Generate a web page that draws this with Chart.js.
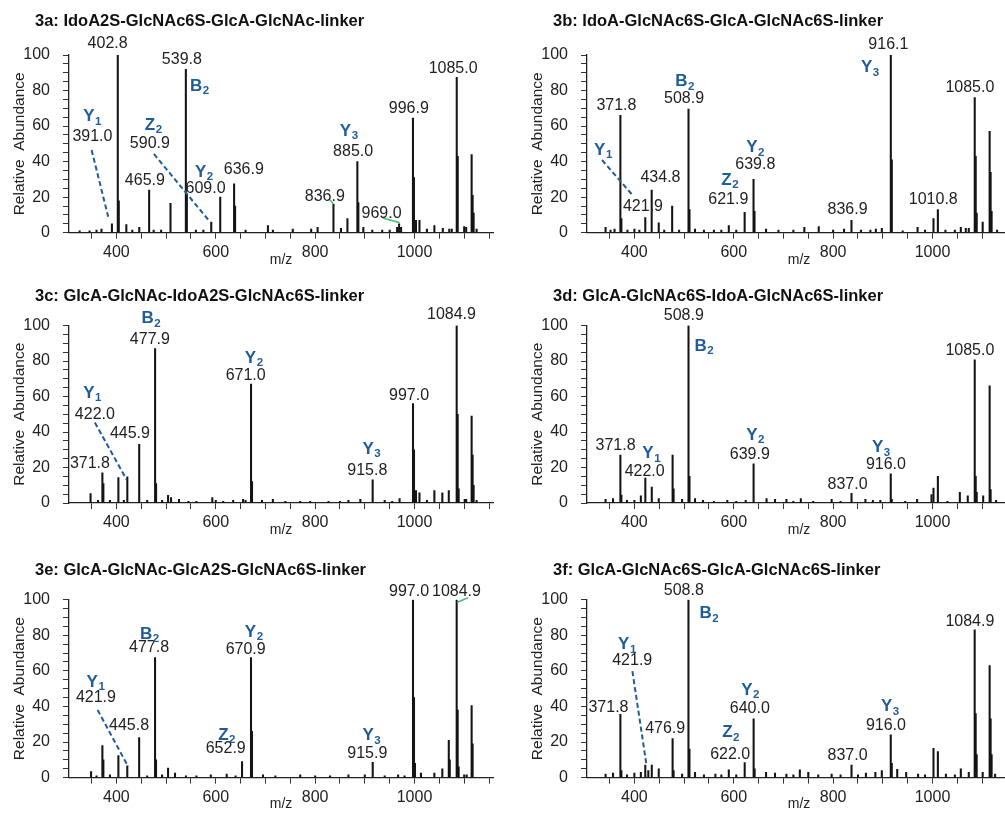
<!DOCTYPE html>
<html><head><meta charset="utf-8">
<script src="https://cdn.jsdelivr.net/npm/chart.js@4.4.0/dist/chart.umd.min.js"></script>
<style>
html,body{margin:0;padding:0;background:#fff}
body{width:1005px;height:813px;overflow:hidden;position:relative}
.p{position:absolute;width:500px;height:270px}
</style>
</head><body>
<div class="p" style="left:0;top:0"><canvas id="c3a"></canvas></div>
<div class="p" style="left:518px;top:0"><canvas id="c3b"></canvas></div>
<div class="p" style="left:0;top:270px"><canvas id="c3c"></canvas></div>
<div class="p" style="left:518px;top:270px"><canvas id="c3d"></canvas></div>
<div class="p" style="left:0;top:543px"><canvas id="c3e"></canvas></div>
<div class="p" style="left:518px;top:543px"><canvas id="c3f"></canvas></div>
<script>
// ---------- titles ----------
const title3a = '3a: IdoA2S-GlcNAc6S-GlcA-GlcNAc-linker';
const title3b = '3b: IdoA-GlcNAc6S-GlcA-GlcNAc6S-linker';
const title3c = '3c: GlcA-GlcNAc-IdoA2S-GlcNAc6S-linker';
const title3d = '3d: GlcA-GlcNAc6S-IdoA-GlcNAc6S-linker';
const title3e = '3e: GlcA-GlcNAc-GlcA2S-GlcNAc6S-linker';
const title3f = '3f: GlcA-GlcNAc6S-GlcA-GlcNAc6S-linker';

// ---------- axis ----------
const xTickLabels = [400, 600, 800, 1000];
const yTickLabels = [0, 20, 40, 60, 80, 100];
const xAxisTitle = 'm/z';
const yAxisTitle = 'Relative  Abundance';

// ---------- spectra: [m/z, relative abundance] ----------
const peaks3a = [[326,1],[346,1],[360,1.5],[370,2],[391.0,5],[402.8,100],[404.8,18],[420,4.5],[432,1.5],[446,3],[465.9,24],[475,1.5],[490,1.5],[508.9,16.5],[539.8,92],[541.8,22],[560,1.5],[575,1.5],[590.9,6],[609.0,20],[636.9,27.5],[638.9,15],[660,1.5],[705,4],[715,1.5],[755,2],[792,2],[805,3],[836.9,16],[852,2.5],[865,8],[885.0,40],[887,17],[897,3],[915,1.5],[935,1.5],[950,1.5],[965,3],[969.0,5],[973,3],[996.9,64.5],[998.9,31],[1003,7],[1010,7],[1025,2],[1040,4],[1057,2.5],[1070,2],[1075,2],[1085.0,87.5],[1087,43],[1100,3.5],[1104,3],[1115,44],[1117,21],[1119,11],[1125,2]];
const peaks3b = [[342,3],[352,1.5],[360,2],[371.8,66],[373.8,8],[386,1.5],[400,2],[410,1.5],[421.9,8.5],[434.8,24],[449,5.5],[460,1.5],[476,15],[490,1.5],[508.9,69.5],[510.9,13],[522,2],[540,1.5],[560,1.5],[575,1.5],[590,4],[605,1.5],[621.9,11.5],[639.8,30],[641.8,12],[665,2],[690,1.5],[720,1.5],[742,3],[771,3.5],[800,1.5],[822,2],[836.9,7],[856,1.5],[875,1.5],[886,2],[898,2.5],[916.1,100],[918.1,41],[940,1],[970,3],[985,1.5],[1002,8],[1010.8,13],[1026,1.5],[1045,1.5],[1057,3],[1067,2.5],[1073,2.5],[1085.0,76],[1087,43],[1089,11],[1101,6],[1115,57],[1117,34],[1119,12],[1130,1.5]];
const peaks3c = [[348,5.3],[363,1.5],[371.8,17],[373.8,11],[387,1.5],[404,14.3],[415,1.5],[422.0,14.7],[445.9,33],[462,1.5],[477.9,87],[479.9,11],[492,1.5],[504,4.3],[510,3],[526,2],[545,1],[561,1],[593,3],[600,1.5],[615,1],[635,1.5],[655,2],[660,1.5],[671.0,67],[673,12],[693,1.5],[715,2],[740,1],[770,1],[790,1],[827,1],[850,1],[867,1.5],[891,2],[915.8,13],[940,1.5],[955,1],[970,2.5],[997.0,56],[999,30],[1003,7],[1010,5.7],[1025,1.5],[1040,7],[1056,5.7],[1069,7],[1084.9,100],[1086.9,50],[1088.9,8],[1101,2],[1104,2],[1115,49],[1117,27],[1119,10],[1125,1.5]];
const peaks3d = [[342,2],[357,2.5],[371.8,27],[373.8,4.5],[385,1.5],[400,1.5],[413,4],[422.0,14],[435,9],[449,2.5],[476.9,27],[478.9,8],[496,2],[508.9,100],[510.9,15],[522,2.5],[538,1.5],[560,1],[587,1.5],[605,1],[624,1.5],[639.9,22],[666,2.5],[683,2],[706,2],[720,1],[735,2.5],[760,1],[797,2],[815,1],[837.0,5.5],[865,2],[880,1.5],[895,1.5],[916.0,16.5],[918,2],[945,1],[969,2],[998,4.7],[1002,8.4],[1010.8,15],[1030,1],[1055,6],[1071,4],[1085.0,80.7],[1087,15],[1089,6],[1102,4],[1115,66],[1117,7.5],[1128,1.5]];
const peaks3e = [[349,3.4],[360,1],[371.8,18],[373.8,10],[387,1.5],[404,12.4],[421.9,6.6],[445.8,22.5],[462,1],[477.8,67.5],[479.8,10],[492,1.5],[504,5.3],[518,2.5],[540,1],[561,1],[590,1.5],[622,2],[640,1],[652.9,9],[670.9,67.5],[672.9,26],[695,1.5],[720,1],[770,1.5],[800,1],[830,1],[867,1.5],[900,1.5],[915.9,8.6],[940,1],[967,1.5],[980,1],[997.0,100],[999,45],[1001,8],[1013,2.5],[1040,2.5],[1056,5],[1069,21],[1071,10],[1084.9,100],[1086.9,38],[1088.9,6],[1100,1.5],[1105,1.5],[1115,40.5],[1117,19]];
const peaks3f = [[342,2],[357,2.5],[371.8,35.5],[373.8,4],[385,1.5],[400,2.5],[413,3],[421.9,7],[428,4],[435,7],[449,5],[476.9,22],[478.9,4],[496,2],[508.8,100],[510.8,16],[522,3],[540,1.5],[563,2],[575,1.5],[590,4.3],[605,1.5],[622.0,8.4],[640.0,33],[642,5],[665,3],[683,2.5],[706,2],[720,1.5],[733,4.3],[750,3],[770,1.5],[797,2],[815,1.5],[837.0,7],[850,1.5],[866,2.5],[885,3],[898,4],[916.0,24],[918,8],[929,4.7],[947,3],[971,2],[985,1.5],[1002,16.5],[1010.8,14.6],[1027,2],[1045,1.5],[1057,5],[1073,3],[1084.9,83],[1086.9,36],[1088.9,13],[1101,3],[1115,63],[1117,33],[1119,13],[1126,2]];

// ---------- peak labels: [text, m/z, abundance] (label centre in data space) ----------
const labels3a = [['402.8',382.3,106.6],['539.8',531.8,97.2],['465.9',457.3,29.5],['391.0',351.7,54],['590.9',467.4,50.3],['609.0',579.5,25],['636.9',656.5,35.3],['836.9',819.5,20.3],['885.0',876.5,45.6],['969.0',933.6,10.9],['996.9',988.5,70],['1085.0',1077.7,92.5]];
const labels3b = [['371.8',363.8,71.3],['508.9',500,75.4],['434.8',452.5,31],['421.9',417.3,14.6],['621.9',589,18.8],['639.8',643.3,38.1],['836.9',829.1,13.2],['916.1',911.2,106],['1010.8',1001.6,18.8],['1085.0',1075.2,81.8]];
const labels3c = [['477.9',467.4,92],['422.0',356.7,49.6],['445.9',427.2,38.9],['371.8',346.7,22.3],['671.0',660.2,71.7],['915.8',905,18.5],['997.0',989,60.4],['1084.9',1074.4,106.2]];
const labels3d = [['508.9',499.4,105.6],['371.8',362,32.3],['422.0',420.7,17.7],['639.9',632.2,27.1],['837.0',829.1,10.3],['916.0',906.2,21.5],['1085.0',1075.2,86]];
const labels3e = [['477.8',465.8,73.2],['421.9',358.8,45],['445.8',425.5,29],['670.9',660.2,72.2],['652.9',620,16.5],['915.9',905,13.3],['997.0',989,104.7],['1084.9',1084.5,104.7]];
const labels3f = [['508.8',499.4,105],['421.9',395.6,66],['371.8',347.8,39.3],['476.9',461.9,27.7],['640.0',632.2,38.9],['622.0',592.8,13.1],['837.0',829.1,12.2],['916.0',906.2,29],['1084.9',1075.2,87.9]];

// ---------- fragment ion names: [ion, subscript, m/z, abundance] ----------
const ions3a = [['B','2',547.9,82.4],['Y','1',333.2,65.3],['Z','2',457.3,60.6],['Y','2',558,34.2],['Y','3',849.7,57.2]];
const ions3b = [['B','2',482.4,85],['Y','1',318.8,46.5],['Z','2',574.8,29.7],['Y','2',625,48],['Y','3',856,93]];
const ions3c = [['B','2',450.7,104],['Y','1',333.2,61.9],['Y','2',658.5,81.7],['Y','3',895.4,30.4]];
const ions3d = [['B','2',521.1,88.3],['Y','1',416,27.8],['Y','2',625,38.3],['Y','3',878.1,31.3]];
const ions3e = [['B','2',447.3,80.8],['Y','1',340,53.6],['Y','2',658.5,81.7],['Z','2',604.9,23.8],['Y','3',895.4,23.5]];
const ions3f = [['B','2',531.2,92.1],['Y','1',367.1,74.8],['Y','2',615,49.1],['Z','2',576.8,25.3],['Y','3',896.2,39.8]];

// ---------- connector lines: [m/z1, ab1, m/z2, ab2] ----------
const dashes3a = [[350.1,46.5,383.5,9],[475.5,44.3,588.1,6.2]];
const dashes3b = [[334.9,40.9,396,21.2]];
const dashes3c = [[356.7,45.3,420.5,13.2]];
const dashes3d = [];
const dashes3e = [[362.2,38,423.7,6.2]];
const dashes3f = [[396,59.8,424.1,7.5]];
const leaders3a = [[830.2,18.4,836.9,16.2],[936.2,8.3,970.4,5.6]];
const leaders3e = [[1085.7,98.4,1107.8,101.2]];

// ---------- style ----------
const FAM = '"Liberation Sans", Arial, Helvetica, sans-serif';
const TEXT = '#222';
const BAR = '#141414';
const BLUE = '#1f5c9c';
const GREEN = '#3cbf6a';
const rows = [
  {tc: 21, top: 55, bottom: 232.7, mzPad: 1.6},
  {tc: 26, top: 55.5, bottom: 233, mzPad: 1.6},
  {tc: 27, top: 56.7, bottom: 234.6, mzPad: 0.2}
];
const H = 270, PADL = 8, AREA_L = 69, PADR = 7, TITLE_X = 35;

const panels = [
  {id:'c3a', title:title3a, peaks:peaks3a, labels:labels3a, ions:ions3a, dashes:dashes3a, leaders:leaders3a, row:0},
  {id:'c3b', title:title3b, peaks:peaks3b, labels:labels3b, ions:ions3b, dashes:dashes3b, leaders:[], row:0},
  {id:'c3c', title:title3c, peaks:peaks3c, labels:labels3c, ions:ions3c, dashes:dashes3c, leaders:[], row:1},
  {id:'c3d', title:title3d, peaks:peaks3d, labels:labels3d, ions:ions3d, dashes:dashes3d, leaders:[], row:1},
  {id:'c3e', title:title3e, peaks:peaks3e, labels:labels3e, ions:ions3e, dashes:dashes3e, leaders:leaders3e, row:2},
  {id:'c3f', title:title3f, peaks:peaks3f, labels:labels3f, ions:ions3f, dashes:dashes3f, leaders:[], row:2}
];

function annotPlugin(p, r) {
  return {
    id: 'annot_' + p.id,
    afterDraw(chart) {
      const ctx = chart.ctx, xs = chart.scales.x, ys = chart.scales.y;
      const X = v => xs.getPixelForValue(v), Y = v => ys.getPixelForValue(v);
      ctx.save();
      // panel title
      ctx.fillStyle = '#111'; ctx.font = 'bold 16.5px ' + FAM;
      ctx.textAlign = 'left'; ctx.textBaseline = 'middle';
      ctx.fillText(p.title, TITLE_X, r.tc);
      // connectors
      ctx.lineWidth = 2; ctx.strokeStyle = BLUE; ctx.setLineDash([5, 3]);
      p.dashes.forEach(d => { ctx.beginPath(); ctx.moveTo(X(d[0]), Y(d[1])); ctx.lineTo(X(d[2]), Y(d[3])); ctx.stroke(); });
      ctx.setLineDash([]); ctx.strokeStyle = GREEN; ctx.lineWidth = 1.5;
      p.leaders.forEach(d => { ctx.beginPath(); ctx.moveTo(X(d[0]), Y(d[1])); ctx.lineTo(X(d[2]), Y(d[3])); ctx.stroke(); });
      // peak labels
      ctx.fillStyle = TEXT; ctx.font = '16px ' + FAM; ctx.textAlign = 'center';
      p.labels.forEach(l => ctx.fillText(l[0], X(l[1]), Y(l[2])));
      // ion names
      ctx.fillStyle = BLUE; ctx.textAlign = 'left';
      p.ions.forEach(i => {
        const x0 = X(i[2]), y0 = Y(i[3]);
        ctx.font = 'bold 17px ' + FAM; ctx.fillText(i[0], x0, y0);
        const w = ctx.measureText(i[0]).width;
        ctx.font = 'bold 11.5px ' + FAM; ctx.fillText(i[1], x0 + w + 0.5, y0 + 5);
      });
      ctx.restore();
    }
  };
}

panels.forEach(p => {
  const r = rows[p.row];
  new Chart(document.getElementById(p.id), {
    type: 'bar',
    data: { datasets: [{
      data: p.peaks.map(d => ({x: d[0], y: d[1]})),
      backgroundColor: BAR, borderWidth: 0, barThickness: 1.4
    }]},
    plugins: [annotPlugin(p, r)],
    options: {
      animation: false, responsive: true, maintainAspectRatio: false,
      layout: { padding: {left: PADL, right: PADR, top: r.top, bottom: 0} },
      plugins: { legend: {display: false}, tooltip: {enabled: false}, title: {display: false} },
      scales: {
        x: {
          type: 'linear', min: 304.6, max: 1158, offset: false,
          afterFit(s) { s.height = H - r.bottom; },
          border: {display: true, color: '#222', width: 1.3},
          grid: {drawOnChartArea: false, drawTicks: true, tickLength: 6, color: '#333', offset: false},
          ticks: { stepSize: 50, includeBounds: false, autoSkip: false, maxRotation: 0, padding: 4,
            color: TEXT, font: {family: FAM, size: 16},
            callback: v => xTickLabels.includes(v) ? String(v) : '' },
          title: { display: true, text: xAxisTitle, color: TEXT, font: {family: FAM, size: 14},
            padding: {top: 0, bottom: r.mzPad} }
        },
        y: {
          min: 0, max: 100,
          afterFit(s) { s.width = AREA_L - PADL; },
          border: {display: true, color: '#222', width: 1.3},
          grid: {drawOnChartArea: false, drawTicks: true, tickLength: 6, color: '#333'},
          ticks: { stepSize: 5, autoSkip: false, padding: 13, color: TEXT, font: {family: FAM, size: 16},
            callback: v => yTickLabels.includes(v) ? String(v) : '' },
          title: { display: true, text: yAxisTitle, color: TEXT, font: {family: FAM, size: 15.5},
            padding: {top: 2.7, bottom: 0} }
        }
      }
    }
  });
});
</script>
</body></html>
